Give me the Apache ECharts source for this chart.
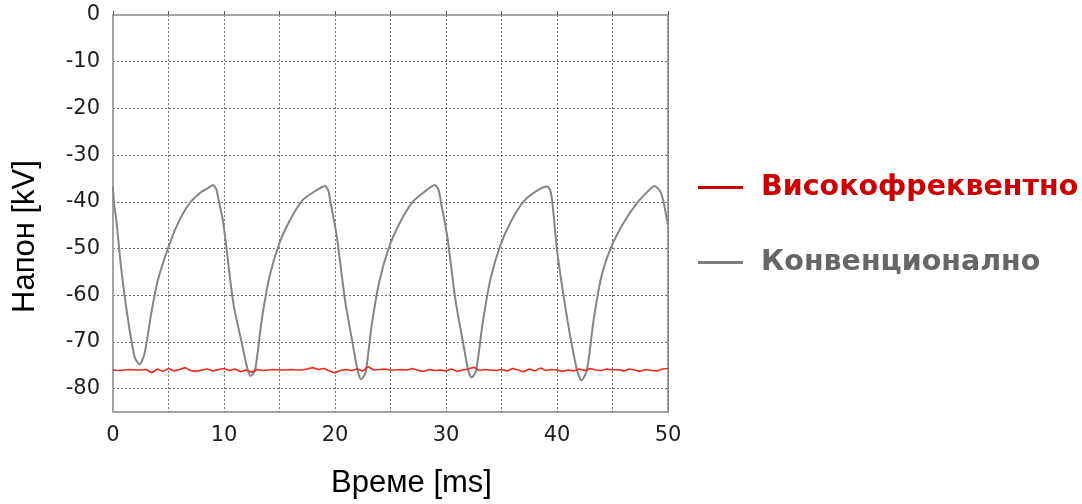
<!DOCTYPE html>
<html>
<head>
<meta charset="utf-8">
<script src="https://cdn.jsdelivr.net/npm/echarts@6/dist/echarts.min.js"></script>
<style>
  html, body { margin: 0; padding: 0; background: #ffffff; }
  #chart { width: 1082px; height: 504px; }
</style>
</head>
<body>
<div id="chart"></div>
<script>
// Series names
const seriesNames = ['Високофреквентно', 'Конвенционално'];

// Conventional supply: voltage ripple, [time ms, voltage kV]
const convTime = [
  0, 0.1, 0.3, 0.75, 1.35, 1.95, 2.4, 2.85, 3.45, 4.05, 4.95, 5.85, 6.9, 7.95, 8.6, 9.0, 9.3,
  9.55, 9.9, 10.1, 10.84, 11.6, 12.1, 12.4, 12.8, 13.4, 14.1, 15.0, 15.95, 17.1, 18.35, 19.1, 19.4,
  19.6, 19.95, 20.2, 20.9, 21.6, 22.05, 22.35, 22.75, 23.3, 24.0, 24.9, 25.9, 27.0, 28.2, 29.0, 29.35,
  29.55, 29.9, 30.15, 30.85, 31.55, 32.0, 32.3, 32.7, 33.3, 34.0, 34.9, 35.9, 37.0, 38.2, 39.1, 39.4,
  39.6, 40.0, 40.6, 41.2, 41.8, 42.2, 42.7, 43.3, 44.0, 44.9, 46.0, 47.2, 48.25, 48.8, 49.3, 49.6, 49.8, 50
];
const convVolt = [
  -36.8, -40.5, -44, -54.5, -65.2, -73.2, -74.8, -72.4, -63.8, -56.7, -50, -44.6, -40.3, -37.9, -37, -36.4, -37.3,
  -40, -44, -47.5, -61.7, -70.2, -75.6, -77.3, -76, -65.3, -56, -48.8, -43.9, -39.6, -37.5, -36.6, -37.6,
  -40.2, -44.5, -48, -61, -70.5, -76.2, -78, -76.6, -66.5, -57, -49.5, -44.2, -40, -37.6, -36.4, -37.6,
  -40.2, -44.5, -48, -61, -70.3, -76, -77.6, -76.3, -66, -56.6, -49.3, -44, -39.9, -37.6, -36.7, -37.6,
  -40.5, -50.3, -60.3, -68.9, -76, -78.2, -76, -65.3, -56, -49.6, -44.5, -40.3, -37.6, -36.6, -37.8, -40, -42.5, -45
];

// High-frequency supply: sampled every 0.5 ms from 0 to 50 ms
const hfStep = 0.5;
const hfVolt = [
  -76.0, -76.1, -76.0, -75.9, -76.0, -76.0, -75.9, -76.6, -75.8, -76.3,
  -75.7, -76.2, -75.9, -75.5, -76.1, -76.3, -76.0, -75.8, -76.2, -75.9,
  -75.7, -76.1, -75.8, -76.4, -76.0, -76.5, -75.9, -76.1, -76.0, -75.9,
  -76.0, -76.0, -75.9, -76.0, -76.0, -75.8, -75.5, -75.9, -75.7, -76.2,
  -76.6, -76.1, -75.9, -76.1, -75.8, -76.2, -75.3, -76.0, -75.9, -75.8,
  -76.0, -76.0, -75.9, -76.0, -75.7, -76.1, -76.3, -75.9, -76.1, -76.0,
  -76.2, -75.8, -76.3, -76.0, -75.8, -75.4, -76.1, -75.9, -76.0, -76.1,
  -75.9, -76.2, -75.7, -76.0, -76.4, -75.8, -76.2, -75.6, -76.1, -75.9,
  -76.0, -76.3, -76.0, -76.2, -75.8, -76.1, -75.7, -76.0, -76.1, -75.8,
  -76.0, -75.9, -76.2, -75.8, -76.0, -76.3, -75.9, -76.1, -76.2, -75.8,
  -75.7
];

// Axis ticks
const xTicks = [0, 5, 10, 15, 20, 25, 30, 35, 40, 45, 50];
const xLabels = [0, 10, 20, 30, 40, 50];
const yTicks = [0, -10, -20, -30, -40, -50, -60, -70, -80];

const convData = convTime.map((t, i) => [t, convVolt[i]]);
const hfData = hfVolt.map((v, i) => [i * hfStep, v]);

const gridLine = { color: '#6e6e6e', width: 1, type: [2, 2] };
const tickFont = { fontFamily: 'DejaVu Sans', fontSize: 21, color: '#1e1e1e' };
const nameFont = { fontFamily: 'Liberation Sans', fontSize: 31, color: '#000000' };

const chart = echarts.init(document.getElementById('chart'), null, { renderer: 'canvas' });
chart.setOption({
  backgroundColor: '#ffffff',
  animation: false,
  grid: {
    left: 113, right: 414, top: 15, bottom: 92,
    show: true, borderColor: '#a3a3a3', borderWidth: 2, backgroundColor: '#ffffff'
  },
  legend: {
    orient: 'vertical',
    left: 693,
    top: 168,
    itemGap: 46,
    icon: 'rect',
    itemWidth: 45,
    itemHeight: 3,
    selectedMode: false,
    textStyle: { fontFamily: 'DejaVu Sans', fontWeight: 'bold', fontSize: 28.5, padding: [0, 0, 0, 13] },
    data: [
      { name: seriesNames[0], itemStyle: { color: '#cc0000' }, textStyle: { color: '#cc0000' } },
      { name: seriesNames[1], itemStyle: { color: '#808080' }, textStyle: { color: '#666666' } }
    ]
  },
  xAxis: {
    type: 'value',
    min: 0, max: 50,
    name: 'Време [ms]',
    nameLocation: 'middle',
    nameGap: 56,
    nameTextStyle: Object.assign({ padding: [0, 0, 0, 42] }, nameFont),
    axisLine: { show: true, lineStyle: { color: '#a3a3a3', width: 2 } },
    axisTick: { show: true, inside: true, length: 4, customValues: xTicks, lineStyle: { color: '#555' } },
    axisLabel: Object.assign({ customValues: xLabels, margin: 13 }, tickFont),
    splitLine: { show: true, lineStyle: gridLine }
  },
  yAxis: {
    type: 'value',
    min: -85, max: 0,
    name: 'Напон [kV]',
    nameLocation: 'middle',
    nameRotate: 90,
    nameGap: 72,
    nameTextStyle: Object.assign({ padding: [0, 46, 0, 0] }, nameFont),
    axisLine: { show: true, lineStyle: { color: '#a3a3a3', width: 2 } },
    axisTick: { show: false, customValues: yTicks },
    axisLabel: Object.assign({ customValues: yTicks, margin: 13 }, tickFont),
    splitLine: { show: true, lineStyle: gridLine }
  },
  series: [
    {
      name: seriesNames[0],
      type: 'line',
      data: hfData,
      showSymbol: false,
      symbol: 'none',
      color: '#cc0000',
      lineStyle: { color: '#ec2a1c', width: 1.6 },
      z: 3
    },
    {
      name: seriesNames[1],
      type: 'line',
      data: convData,
      showSymbol: false,
      symbol: 'none',
      smooth: 0.25,
      color: '#808080',
      lineStyle: { color: '#858585', width: 2 },
      z: 2
    }
  ]
});
</script>
</body>
</html>
